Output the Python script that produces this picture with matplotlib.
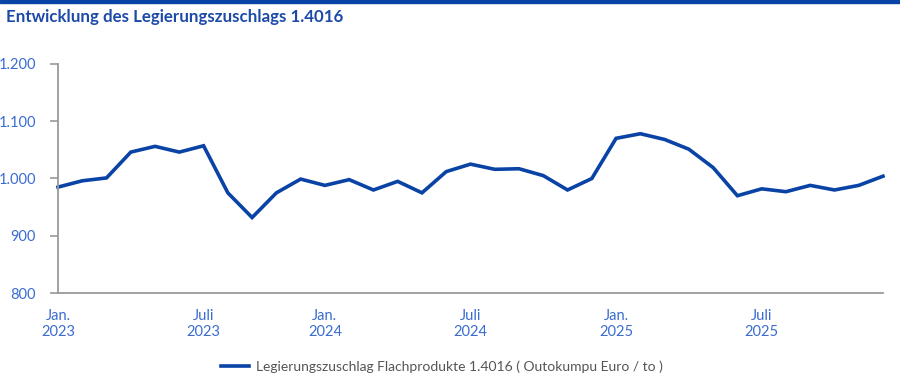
import matplotlib
matplotlib.use("Agg")
import matplotlib.pyplot as plt
from matplotlib.patches import Rectangle

values = [985, 996, 1001, 1046, 1056, 1046, 1057, 975, 932, 975, 999, 988,
          998, 980, 995, 975, 1012, 1025, 1016, 1017, 1005, 980, 1000, 1070,
          1078, 1068, 1051, 1019, 970, 982, 977, 988, 980, 988, 1004]
tick_idx = [0, 6, 11, 17, 23, 29]
tick_labels = ["Jan.\n2023", "Juli\n2023", "Jan.\n2024", "Juli\n2024", "Jan.\n2025", "Juli\n2025"]
y_ticks = [800, 900, 1000, 1100, 1200]
y_labels = ["800", "900", "1.000", "1.100", "1.200"]
title = "Entwicklung des Legierungszuschlags 1.4016"
legend_label = "Legierungszuschlag Flachprodukte 1.4016 ( Outokumpu Euro / to )"

plt.rcParams['font.family'] = ['Lato', 'DejaVu Sans']

LINE = "#0a43a6"
TICK = "#3a6cd0"
TITLE = "#1d4aa8"
GREY = "#9a9a9a"

fig = plt.figure(figsize=(9, 3.73), dpi=100)
ax = fig.add_axes([58/900, 1-293.3/373, (883-58)/900, (293.3-63.7)/373])

x = list(range(len(values)))
ax.plot(x, values, color=LINE, lw=2.6, solid_joinstyle='miter', label=legend_label, clip_on=False)

ax.set_xlim(0, len(values)-1)
ax.set_ylim(800, 1200)
ax.set_yticks(y_ticks)
ax.set_yticklabels(y_labels)
ax.set_xticks(tick_idx)
ax.set_xticklabels(tick_labels, linespacing=1.25)

for s in ["top", "right"]:
    ax.spines[s].set_visible(False)
for s in ["left", "bottom"]:
    ax.spines[s].set_color(GREY)
    ax.spines[s].set_linewidth(1.3)

ax.tick_params(axis='y', length=6, width=1.2, color=GREY, labelcolor=TICK, labelsize=10.5, pad=10)
ax.tick_params(axis='x', length=0, labelcolor=TICK, labelsize=10.5, pad=11)

fig.text(6/900, 1-17/373, title, color=TITLE, fontsize=12.2, fontweight='bold', va='center', ha='left')
fig.patches.append(Rectangle((0, 1-2.5/373), 1, 2.5/373, transform=fig.transFigure, color=LINE, zorder=10))

leg = fig.legend(loc='center', bbox_to_anchor=(442/900, 1-366.5/373), frameon=False,
                 fontsize=10, handlelength=2.0, handletextpad=0.5)
for t in leg.get_texts():
    t.set_color("#555555")

fig.savefig("out.png", dpi=100)
